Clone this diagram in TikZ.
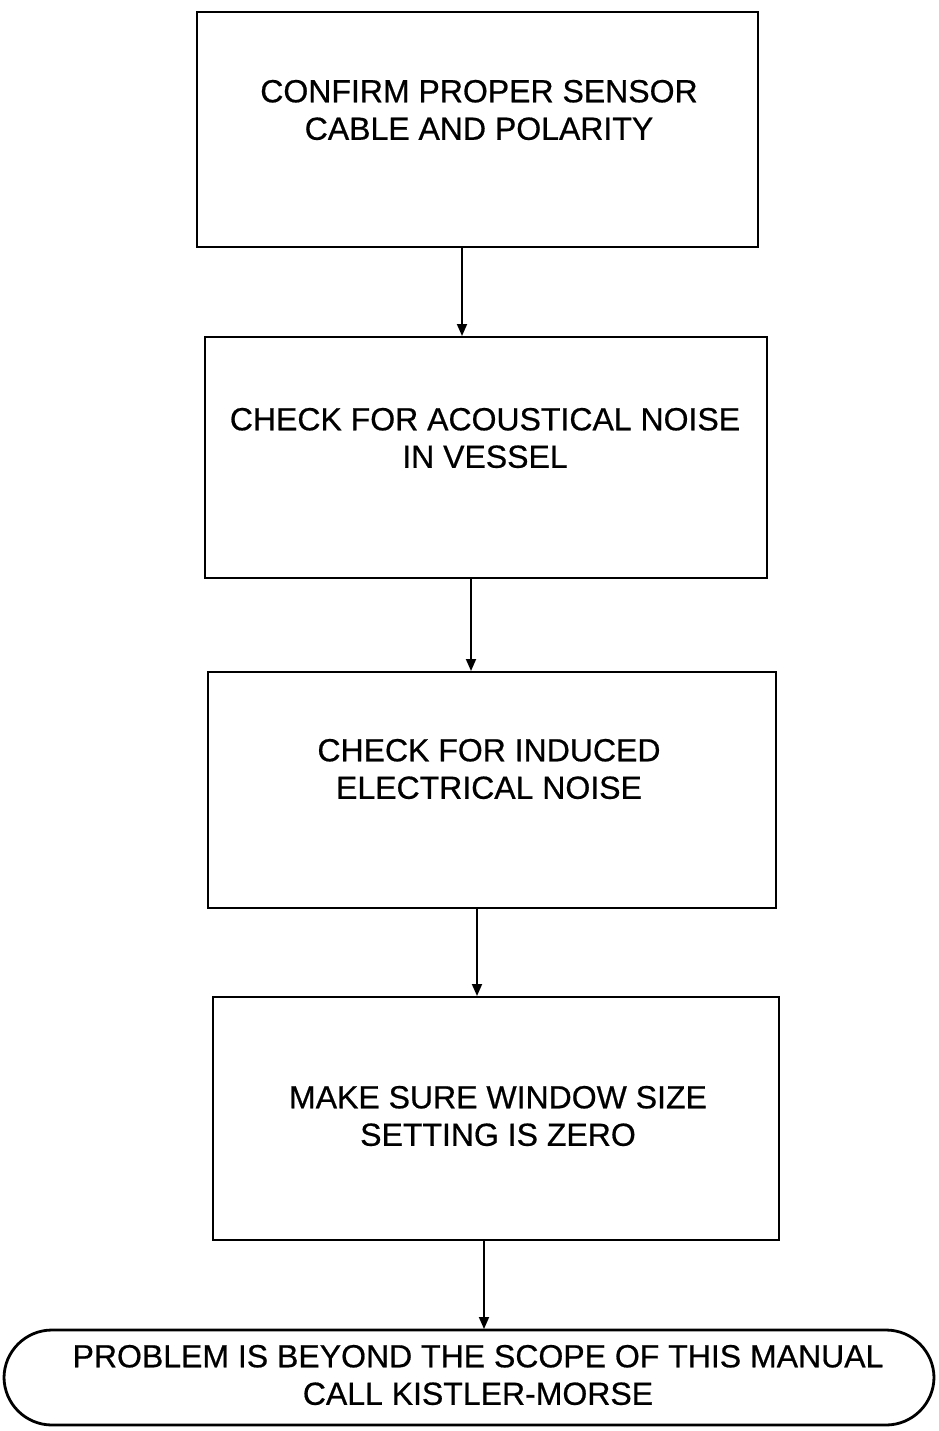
\documentclass[tikz,border=0pt]{standalone}
\usepackage{fontspec}
\setmainfont[FakeBold=0.6]{Liberation Sans}
\usetikzlibrary{arrows.meta}
\begin{document}
\begin{tikzpicture}[x=1pt,y=-1pt,
  stepbox/.style={draw,line width=2.8pt,rectangle},
  lbl/.style={align=center,font=\fontsize{32}{37.5}\selectfont},
  conn/.style={line width=1.8pt,-{Triangle[length=12pt,width=10pt]}}]
\useasboundingbox (0,0) rectangle (938,1431);
\draw[stepbox] (197,12) rectangle (758,247);
\node[lbl] (t1) at (479,110) {CONFIRM PROPER SENSOR\\CABLE AND POLARITY};
\draw[stepbox] (205,337) rectangle (767,578);
\node[lbl] (t2) at (485,438) {CHECK FOR ACOUSTICAL NOISE\\IN VESSEL};
\draw[stepbox] (208,672) rectangle (776,908);
\node[lbl] (t3) at (489,769) {CHECK FOR INDUCED\\ELECTRICAL NOISE};
\draw[stepbox] (213,997) rectangle (779,1240);
\node[lbl] (t4) at (498,1116) {MAKE SURE WINDOW SIZE\\SETTING IS ZERO};
\draw[stepbox,rounded corners=48pt] (4,1330) rectangle (934,1425);
\node[lbl] (t5) at (478,1375) {PROBLEM IS BEYOND THE SCOPE OF THIS MANUAL\\CALL KISTLER-MORSE};
\coordinate (a1s) at (462,247); \coordinate (a1e) at (462,336);
\coordinate (a2s) at (471,578); \coordinate (a2e) at (471,671);
\coordinate (a3s) at (477,908); \coordinate (a3e) at (477,996);
\coordinate (a4s) at (484,1240); \coordinate (a4e) at (484,1329);
\draw[conn] (a1s) -- (a1e);
\draw[conn] (a2s) -- (a2e);
\draw[conn] (a3s) -- (a3e);
\draw[conn] (a4s) -- (a4e);
\end{tikzpicture}
\end{document}
